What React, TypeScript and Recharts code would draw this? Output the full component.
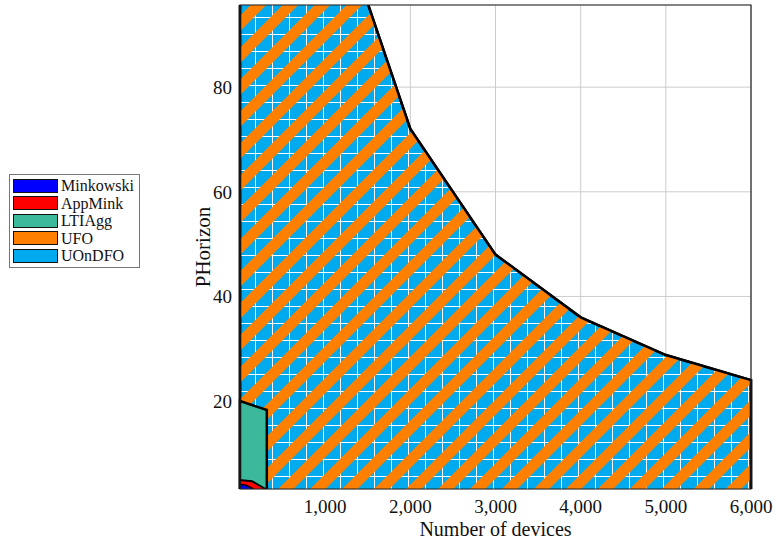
import { ComposedChart, Area, XAxis, YAxis, CartesianGrid, ReferenceArea, Legend } from "recharts";

const xTicks = [1000, 2000, 3000, 4000, 5000, 6000];
const yTicks = [20, 40, 60, 80];
const yMin = 3.2;
const yMax = 95.7;

// each region is a closed outline: devices -> horizon
const uondfoDevices = [0, 0, 1000, 1500, 2000, 3000, 4000, 5000, 6000, 6000];
const uondfoHorizon = [yMin, 144, 144, 96, 72, 48, 36, 28.8, 24, yMin];
const ufoDevices = [0, 0, 1000, 1500, 2000, 3000, 4000, 5000, 6000, 6000];
const ufoHorizon = [yMin, 144, 144, 96, 72, 48, 36, 28.8, 24, yMin];
const ltiDevices = [0, 0, 315, 315];
const ltiHorizon = [yMin, 20, 18.3, yMin];
const appDevices = [0, 0, 140, 300];
const appHorizon = [yMin, 4.9, 4.7, yMin];
const minkDevices = [0, 0, 70, 160];
const minkHorizon = [yMin, 4.1, 3.9, yMin];

const legendNames = ["Minkowski", "AppMink", "LTIAgg", "UFO", "UOnDFO"];
const legendColors = ["#0000ff", "#ff0000", "#3cb99b", "#ff8000", "#00aaee"];

const zip = (xs: number[], ys: number[]) => xs.map((x, i) => ({ x, y: ys[i] }));

const font = "'Liberation Serif', 'DejaVu Serif', serif";

function LegendBox() {
  return (
    <div
      style={{
        border: "1px solid #777",
        background: "#fff",
        padding: "2px 3px",
        fontFamily: font,
        fontSize: 16,
        lineHeight: "17px",
        color: "#111",
      }}
    >
      {legendNames.map((name, i) => (
        <div key={name} style={{ display: "flex", alignItems: "center", height: 17.5 }}>
          <span
            style={{
              display: "inline-block",
              width: 43,
              height: 12,
              background: legendColors[i],
              border: "1px solid #111",
              marginRight: 3,
            }}
          />
          {name}
        </div>
      ))}
    </div>
  );
}

export default function App() {
  return (
    <div style={{ position: "absolute", left: 0, top: 0 }}>
      <ComposedChart width={776} height={542} margin={{ top: 5, right: 25, bottom: 0, left: 180 }}>
        <defs>
          <pattern id="gridPat" patternUnits="userSpaceOnUse" width="17" height="17">
            <rect width="17" height="17" fill="#00aaee" />
            <path d="M0 0.5 H17 M0.5 0 V17" stroke="#fff" strokeWidth="1" />
          </pattern>
          <pattern
            id="stripePat"
            patternUnits="userSpaceOnUse"
            width="22.6"
            height="22.6"
            patternTransform="rotate(45)"
          >
            <rect width="11" height="22.6" fill="#ff8000" />
          </pattern>
        </defs>
        <CartesianGrid stroke="#cccccc" />
        <XAxis
          dataKey="x"
          type="number"
          domain={[0, 6000]}
          ticks={xTicks}
          tickFormatter={(v: number) => v.toLocaleString("en-US")}
          height={53}
          tickLine={false}
          axisLine={false}
          tickMargin={5}
          tick={{ fontFamily: font, fontSize: 19, fill: "#111" }}
          label={{
            value: "Number of devices",
            position: "insideBottom",
            offset: 6,
            style: { fontFamily: font, fontSize: 20, fill: "#111" },
          }}
        />
        <YAxis
          dataKey="y"
          type="number"
          domain={[yMin, yMax]}
          ticks={yTicks}
          allowDataOverflow
          width={60}
          tickLine={false}
          axisLine={false}
          tick={{ fontFamily: font, fontSize: 19, fill: "#111" }}
          label={{
            value: "PHorizon",
            angle: -90,
            position: "insideLeft",
            offset: 23,
            style: { fontFamily: font, fontSize: 21, fill: "#111", textAnchor: "middle" },
          }}
        />
        <Area
          data={zip(uondfoDevices, uondfoHorizon)}
          dataKey="y"
          name="UOnDFO"
          type="linear"
          baseValue={yMin}
          fill="url(#gridPat)"
          fillOpacity={1}
          stroke="#000"
          strokeWidth={2.5}
          isAnimationActive={false}
        />
        <Area
          data={zip(ufoDevices, ufoHorizon)}
          dataKey="y"
          name="UFO"
          type="linear"
          baseValue={yMin}
          fill="url(#stripePat)"
          fillOpacity={1}
          stroke="#000"
          strokeWidth={2.5}
          isAnimationActive={false}
        />
        <Area
          data={zip(ltiDevices, ltiHorizon)}
          dataKey="y"
          name="LTIAgg"
          type="linear"
          baseValue={yMin}
          fill="#3cb99b"
          fillOpacity={1}
          stroke="#000"
          strokeWidth={2.5}
          isAnimationActive={false}
        />
        <Area
          data={zip(appDevices, appHorizon)}
          dataKey="y"
          name="AppMink"
          type="linear"
          baseValue={yMin}
          fill="#ff0000"
          fillOpacity={1}
          stroke="#000"
          strokeWidth={2}
          isAnimationActive={false}
        />
        <Area
          data={zip(minkDevices, minkHorizon)}
          dataKey="y"
          name="Minkowski"
          type="linear"
          baseValue={yMin}
          fill="#0000ff"
          fillOpacity={1}
          stroke="#000"
          strokeWidth={1.5}
          isAnimationActive={false}
        />
        <ReferenceArea x1={0} x2={6000} y1={yMin} y2={yMax} fill="none" stroke="#222" strokeWidth={1.2} />
        <Legend
          layout="vertical"
          align="center"
          verticalAlign="middle"
          content={() => <LegendBox />}
          wrapperStyle={{ position: "absolute", left: 9, top: 174, width: 131 }}
        />
      </ComposedChart>
    </div>
  );
}
